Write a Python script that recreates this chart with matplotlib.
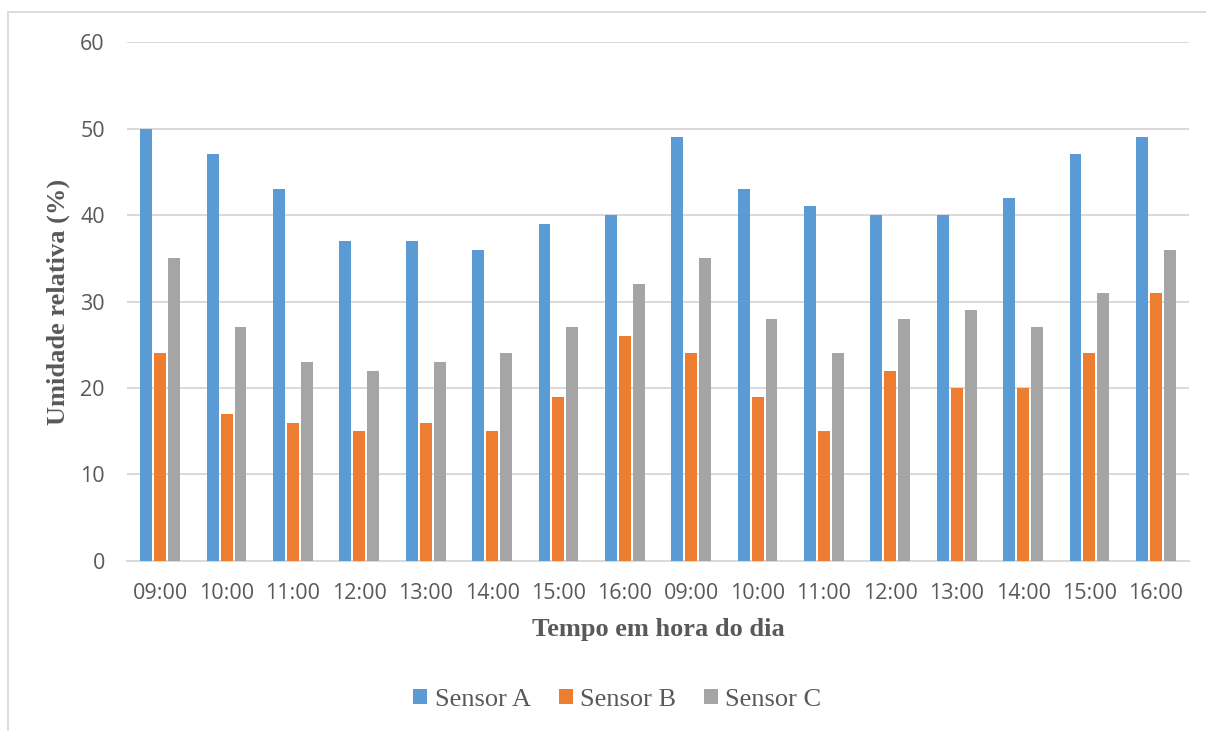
import numpy as np
import matplotlib
matplotlib.use("Agg")
import matplotlib.pyplot as plt
from matplotlib.patches import Rectangle

# horas de medicao (dois dias)
horas = ["09:00", "10:00", "11:00", "12:00", "13:00", "14:00", "15:00", "16:00",
         "09:00", "10:00", "11:00", "12:00", "13:00", "14:00", "15:00", "16:00"]
sensor_a = [50, 47, 43, 37, 37, 36, 39, 40, 49, 43, 41, 40, 40, 42, 47, 49]
sensor_b = [24, 17, 16, 15, 16, 15, 19, 26, 24, 19, 15, 22, 20, 20, 24, 31]
sensor_c = [35, 27, 23, 22, 23, 24, 27, 32, 35, 28, 24, 28, 29, 27, 31, 36]

cores = ["#5b9bd5", "#ed7d31", "#a5a5a5"]
cinza = "#595959"

fig = plt.figure(figsize=(12.06, 7.31), dpi=100)
ax = fig.add_axes([0.1053, 0.2326, 0.8806, 0.7099])

x = np.arange(len(horas))
w = 0.18
off = 0.21
ax.bar(x - off, sensor_a, w, color=cores[0], label="Sensor A", zorder=3)
ax.bar(x, sensor_b, w, color=cores[1], label="Sensor B", zorder=3)
ax.bar(x + off, sensor_c, w, color=cores[2], label="Sensor C", zorder=3)

ax.set_xlim(-0.5, len(horas) - 0.5)
ax.set_ylim(0, 60)
ax.set_yticks(range(0, 61, 10))
ax.set_xticks(x)
ax.set_xticklabels(horas)
ax.grid(axis="y", color="#d9d9d9", linewidth=1.4, zorder=0)
for s in ["top", "right", "left"]:
    ax.spines[s].set_visible(False)
ax.spines["bottom"].set_color("#d9d9d9")
ax.spines["bottom"].set_linewidth(1.4)
ax.tick_params(length=0, labelsize=15.5, labelcolor=cinza)
ax.tick_params(axis="x", pad=16)
ax.tick_params(axis="y", pad=16)
for lbl in ax.get_xticklabels() + ax.get_yticklabels():
    lbl.set_family("Open Sans")

ax.set_xlabel("Tempo em hora do dia", family="Liberation Serif", fontsize=19,
              fontweight="bold", color=cinza, labelpad=10)
ax.set_ylabel("Umidade relativa (%)", family="Liberation Serif", fontsize=19,
              fontweight="bold", color=cinza, labelpad=7)

leg = fig.legend(loc="center", bbox_to_anchor=(0.512, 0.043), ncol=3, frameon=False,
                 prop={"family": "Liberation Serif", "size": 19},
                 handlelength=0.53, handleheight=0.53, handletextpad=0.28, columnspacing=1.06)
for t in leg.get_texts():
    t.set_color(cinza)

# moldura externa do grafico
fig.patches.append(Rectangle((8 / 1206, -0.1), 1.2, 1 - 12 / 731 + 0.1,
                             transform=fig.transFigure, fill=False,
                             edgecolor="#d9d9d9", linewidth=1.3))

fig.savefig("out.png", dpi=100)
